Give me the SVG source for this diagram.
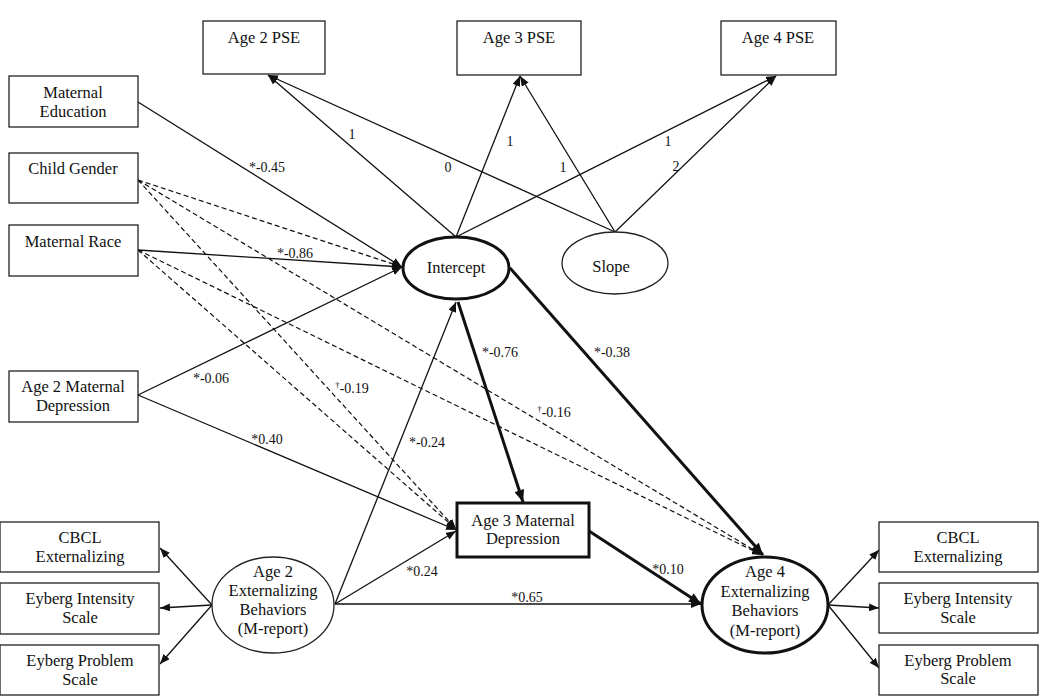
<svg xmlns="http://www.w3.org/2000/svg" width="1050" height="696" viewBox="0 0 1050 696">
<style>
  text { font-family: "Liberation Serif", "Times New Roman", serif; fill: #111; }
  .n { font-size: 16.5px; text-anchor: middle; }
  .l { font-size: 14px; text-anchor: middle; }
  .box { fill: #fff; stroke: #222; stroke-width: 1.3; }
  .boxb { fill: #fff; stroke: #111; stroke-width: 3; }
  .ell { fill: #fff; stroke: #222; stroke-width: 1.3; }
  .ellb { fill: #fff; stroke: #111; stroke-width: 3; }
  .c { fill: none; stroke: #111; stroke-width: 1.3; marker-end: url(#a); }
  .d { fill: none; stroke: #111; stroke-width: 1.2; stroke-dasharray: 5 3; marker-end: url(#a); }
  .t { fill: none; stroke: #111; stroke-width: 3; marker-end: url(#b); }
  .sup { font-size: 9px; }
</style>
<defs>
  <marker id="a" viewBox="0 0 10 8" refX="10" refY="4" markerWidth="10" markerHeight="8" markerUnits="userSpaceOnUse" orient="auto">
    <path d="M0,0 L10,4 L0,8 z" fill="#111"/>
  </marker>
  <marker id="b" viewBox="0 0 12 10" refX="12" refY="5" markerWidth="13" markerHeight="10" markerUnits="userSpaceOnUse" orient="auto">
    <path d="M0,0 L12,5 L0,10 z" fill="#111"/>
  </marker>
</defs>
<rect width="1050" height="696" fill="#fff"/>

<g id="connectors">
  <!-- growth loadings -->
  <line class="c" x1="456" y1="237" x2="268" y2="75"/>
  <line class="c" x1="456" y1="237" x2="520" y2="76"/>
  <line class="c" x1="456" y1="237" x2="776" y2="76"/>
  <line class="c" x1="615" y1="232" x2="268" y2="75"/>
  <line class="c" x1="615" y1="232" x2="520" y2="76"/>
  <line class="c" x1="615" y1="232" x2="776" y2="76"/>
  <!-- covariates to intercept -->
  <line class="c" x1="138" y1="102" x2="402" y2="267"/>
  <line class="d" x1="138" y1="180" x2="402" y2="267"/>
  <line class="c" x1="138" y1="250" x2="402" y2="267"/>
  <line class="c" x1="138" y1="395" x2="402" y2="267"/>
  <!-- covariates to age 3 MD -->
  <line class="d" x1="138" y1="180" x2="456" y2="529"/>
  <line class="d" x1="138" y1="250" x2="456" y2="529"/>
  <line class="c" x1="138" y1="395" x2="456" y2="530"/>
  <!-- covariates to age 4 -->
  <line class="d" x1="138" y1="180" x2="762" y2="555"/>
  <line class="d" x1="138" y1="250" x2="762" y2="555"/>
  <!-- age 2 ext -->
  <line class="c" x1="335" y1="604" x2="456" y2="302"/>
  <line class="c" x1="335" y1="604" x2="456" y2="531"/>
  <line class="c" x1="335" y1="604" x2="701" y2="604"/>
  <!-- thick paths -->
  <line class="t" x1="458" y1="302" x2="523" y2="502"/>
  <line class="t" x1="510" y1="268" x2="763" y2="555"/>
  <line class="t" x1="589" y1="531" x2="701" y2="604"/>
  <!-- indicators -->
  <line class="c" x1="212" y1="605" x2="160" y2="548"/>
  <line class="c" x1="212" y1="605" x2="160" y2="608"/>
  <line class="c" x1="212" y1="605" x2="160" y2="664"/>
  <line class="c" x1="828" y1="605" x2="879" y2="550"/>
  <line class="c" x1="828" y1="605" x2="879" y2="608"/>
  <line class="c" x1="828" y1="605" x2="879" y2="668"/>

  <!-- labels -->
  <text class="l" x="352" y="139">1</text>
  <text class="l" x="510" y="146">1</text>
  <text class="l" x="668" y="146">1</text>
  <text class="l" x="448" y="172">0</text>
  <text class="l" x="563" y="172">1</text>
  <text class="l" x="676" y="171">2</text>
  <text class="l" x="267" y="172">*-0.45</text>
  <text class="l" x="295" y="258">*-0.86</text>
  <text class="l" x="211" y="383">*-0.06</text>
  <text class="l" x="267" y="444">*0.40</text>
  <text class="l" x="352" y="393"><tspan class="sup" dy="-5">†</tspan><tspan dy="5">-0.19</tspan></text>
  <text class="l" x="427" y="447">*-0.24</text>
  <text class="l" x="500" y="357">*-0.76</text>
  <text class="l" x="612" y="357">*-0.38</text>
  <text class="l" x="554" y="417"><tspan class="sup" dy="-5">†</tspan><tspan dy="5">-0.16</tspan></text>
  <text class="l" x="422" y="576">*0.24</text>
  <text class="l" x="527" y="602">*0.65</text>
  <text class="l" x="668" y="574">*0.10</text>
</g>

<g id="age2pse"><rect class="box" x="203" y="21" width="122" height="53"/><text class="n" x="264" y="43">Age 2 PSE</text></g>
<g id="age3pse"><rect class="box" x="457" y="21" width="124" height="54"/><text class="n" x="519" y="43">Age 3 PSE</text></g>
<g id="age4pse"><rect class="box" x="721" y="21" width="115" height="54"/><text class="n" x="778" y="43">Age 4 PSE</text></g>

<g id="mateduc"><rect class="box" x="9" y="76" width="129" height="51"/><text class="n" x="73" y="98">Maternal</text><text class="n" x="73" y="117">Education</text></g>
<g id="childgender"><rect class="box" x="9" y="153" width="129" height="50"/><text class="n" x="73" y="174">Child Gender</text></g>
<g id="matrace"><rect class="box" x="9" y="225" width="129" height="51"/><text class="n" x="73" y="247">Maternal Race</text></g>
<g id="age2md"><rect class="box" x="9" y="371" width="129" height="51"/><text class="n" x="73" y="392">Age 2 Maternal</text><text class="n" x="73" y="411">Depression</text></g>

<g id="intercept"><ellipse class="ellb" cx="456" cy="268" rx="53" ry="31"/><text class="n" x="456" y="273">Intercept</text></g>
<g id="slope"><ellipse class="ell" cx="615" cy="263" rx="53" ry="31"/><text class="n" x="611" y="272">Slope</text></g>

<g id="age3md"><rect class="boxb" x="457" y="503" width="132" height="54"/><text class="n" x="523" y="526">Age 3 Maternal</text><text class="n" x="523" y="544">Depression</text></g>

<g id="age2ext"><ellipse class="ell" cx="273" cy="605" rx="61" ry="48"/>
  <text class="n" x="273" y="577">Age 2</text><text class="n" x="273" y="596">Externalizing</text><text class="n" x="273" y="615">Behaviors</text><text class="n" x="273" y="634">(M-report)</text></g>

<g id="age4ext"><ellipse class="ellb" cx="765" cy="605" rx="63" ry="48"/>
  <text class="n" x="765" y="577">Age 4</text><text class="n" x="765" y="597">Externalizing</text><text class="n" x="765" y="616">Behaviors</text><text class="n" x="765" y="636">(M-report)</text></g>

<g id="cbcl-l"><rect class="box" x="0" y="522" width="159" height="50"/><text class="n" x="80" y="543">CBCL</text><text class="n" x="80" y="562">Externalizing</text></g>
<g id="eyint-l"><rect class="box" x="0" y="583" width="159" height="51"/><text class="n" x="80" y="604">Eyberg Intensity</text><text class="n" x="80" y="623">Scale</text></g>
<g id="eyprob-l"><rect class="box" x="0" y="645" width="159" height="50"/><text class="n" x="80" y="666">Eyberg Problem</text><text class="n" x="80" y="685">Scale</text></g>

<g id="cbcl-r"><rect class="box" x="879" y="522" width="159" height="50"/><text class="n" x="958" y="543">CBCL</text><text class="n" x="958" y="562">Externalizing</text></g>
<g id="eyint-r"><rect class="box" x="879" y="583" width="159" height="50"/><text class="n" x="958" y="604">Eyberg Intensity</text><text class="n" x="958" y="623">Scale</text></g>
<g id="eyprob-r"><rect class="box" x="879" y="645" width="159" height="50"/><text class="n" x="958" y="666">Eyberg Problem</text><text class="n" x="958" y="684">Scale</text></g>
</svg>
